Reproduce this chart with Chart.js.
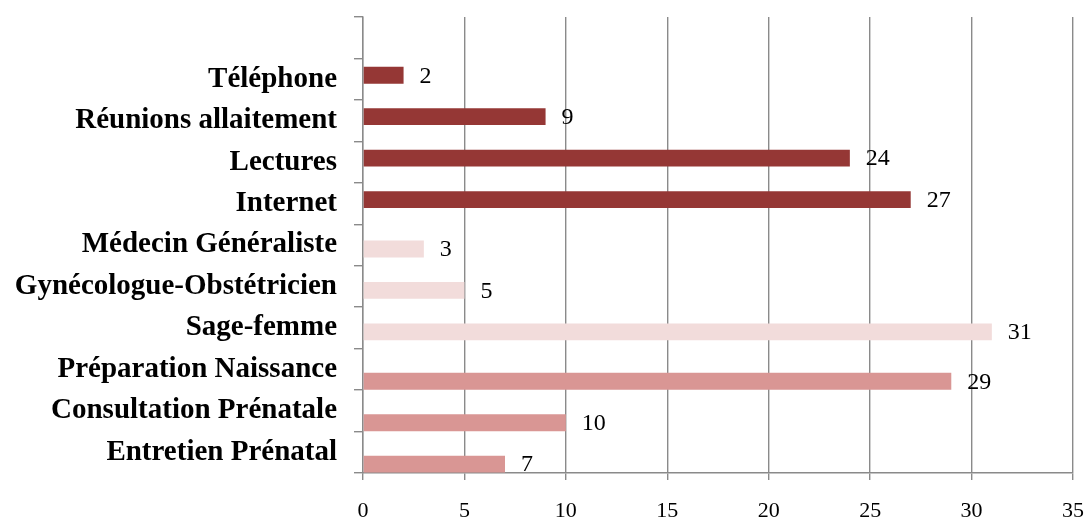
<!DOCTYPE html>
<html lang="fr">
<head>
    <meta charset="UTF-8">
    <title>Sources d'information</title>
    <script src="https://cdn.jsdelivr.net/npm/chart.js"></script>
    <style>
        html, body {
            margin: 0;
            padding: 0;
            background: #ffffff;
        }
        #wrap {
            width: 1085px;
            height: 518px;
        }
    </style>
</head>
<body>
    <div id="wrap"><canvas id="chart"></canvas></div>

    <script>
        // categories, top to bottom (first slot is empty, as in the original sheet)
        const categories = [
            '',
            'Téléphone',
            'Réunions allaitement',
            'Lectures',
            'Internet',
            'Médecin Généraliste',
            'Gynécologue-Obstétricien',
            'Sage-femme',
            'Préparation Naissance',
            'Consultation Prénatale',
            'Entretien Prénatal'
        ];

        // empty series kept so the bars sit where they do in the original
        const emptySeries = [null, null, null, null, null, null, null, null, null, null, null];
        const autresSources = [null, 2, 9, 24, 27, null, null, null, null, null, null];
        const professionnels = [null, null, null, null, null, 3, 5, 31, null, null, null];
        const suiviPrenatal = [null, null, null, null, null, null, null, null, 29, 10, 7];

        const xTicks = [0, 5, 10, 15, 20, 25, 30, 35];

        const serif = "'Liberation Serif', 'Times New Roman', serif";
        const gridGrey = '#8a8a8a';

        // value written just past the end of every bar
        const valueLabels = {
            id: 'valueLabels',
            afterDatasetsDraw(chart) {
                const ctx = chart.ctx;
                ctx.save();
                ctx.font = '24px ' + serif;
                ctx.fillStyle = '#000000';
                ctx.textAlign = 'left';
                ctx.textBaseline = 'middle';
                chart.data.datasets.forEach((ds, i) => {
                    const meta = chart.getDatasetMeta(i);
                    meta.data.forEach((bar, j) => {
                        const v = ds.data[j];
                        if (v === null || v === undefined) return;
                        ctx.fillText(String(v), bar.x + 16, bar.y + 1);
                    });
                });
                ctx.restore();
            }
        };

        // no extra room for half labels at the ends of the axes
        const noEdgePadding = (scale) => {
            scale.paddingTop = 0;
            scale.paddingBottom = 0;
            scale.paddingLeft = 0;
            scale.paddingRight = 0;
        };

        new Chart(document.getElementById('chart'), {
            type: 'bar',
            data: {
                labels: categories,
                datasets: [
                    { label: '', data: emptySeries, backgroundColor: '#ffffff' },
                    { label: 'Autres sources', data: autresSources, backgroundColor: '#953735' },
                    { label: 'Professionnels', data: professionnels, backgroundColor: '#f2dcdb' },
                    { label: 'Suivi prénatal', data: suiviPrenatal, backgroundColor: '#d99694' }
                ]
            },
            options: {
                indexAxis: 'y',
                responsive: true,
                maintainAspectRatio: false,
                animation: false,
                categoryPercentage: 0.765,
                barPercentage: 2.13,
                layout: {
                    padding: { top: 17, right: 12, bottom: 0, left: 0 }
                },
                plugins: {
                    legend: { display: false },
                    tooltip: { enabled: false }
                },
                scales: {
                    x: {
                        min: 0,
                        max: 35,
                        afterBuildTicks: (scale) => {
                            scale.ticks = xTicks.map(v => ({ value: v }));
                        },
                        afterFit: (scale) => {
                            scale.height = 45;
                            noEdgePadding(scale);
                        },
                        grid: {
                            color: gridGrey,
                            lineWidth: 1.4,
                            drawTicks: true,
                            tickLength: 7
                        },
                        border: { color: gridGrey, width: 1.4 },
                        ticks: {
                            color: '#000000',
                            font: { family: serif, size: 22 },
                            padding: 18
                        }
                    },
                    y: {
                        afterFit: (scale) => {
                            scale.width = 363;
                            noEdgePadding(scale);
                        },
                        grid: {
                            offset: true,
                            drawOnChartArea: false,
                            drawTicks: true,
                            tickLength: 9,
                            color: gridGrey,
                            lineWidth: 1.4
                        },
                        border: { color: gridGrey, width: 1.4 },
                        ticks: {
                            color: '#000000',
                            font: { family: serif, size: 29, weight: 'bold' },
                            padding: 17,
                            autoSkip: false
                        }
                    }
                }
            },
            plugins: [valueLabels]
        });
    </script>
</body>
</html>
